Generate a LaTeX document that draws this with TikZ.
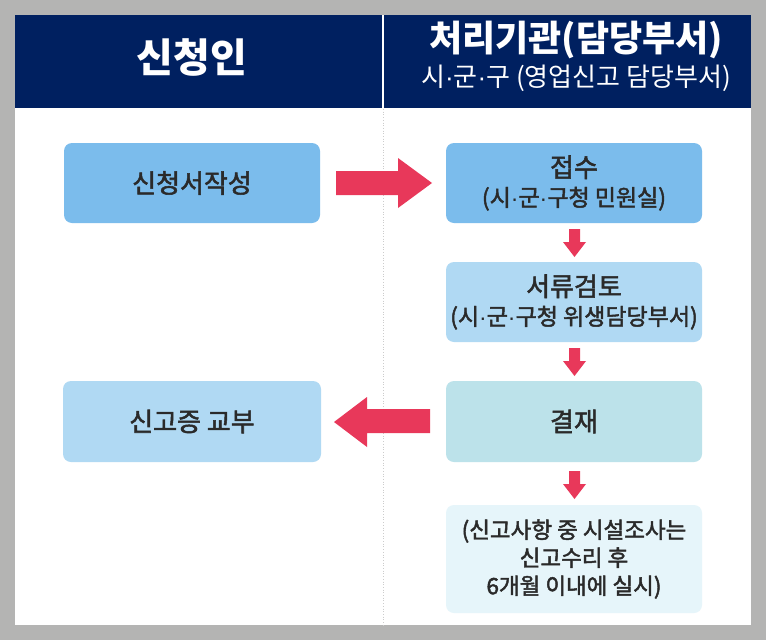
\documentclass[tikz,border=0pt]{standalone}
\usepackage{fontspec}
\setmainfont{Noto Sans CJK KR}
\newfontfamily\kmed[FakeBold=2]{Noto Sans CJK KR}
\newfontfamily\dotfont{Liberation Sans}
\newcommand{\md}{{\dotfont ·}}
\definecolor{navy}{RGB}{0,32,96}
\definecolor{bggray}{RGB}{180,180,179}
\definecolor{boxA}{RGB}{123,188,236}
\definecolor{boxB}{RGB}{176,217,243}
\definecolor{boxC}{RGB}{188,226,234}
\definecolor{boxD}{RGB}{230,245,250}
\definecolor{arrowred}{RGB}{232,56,90}
\definecolor{txt}{RGB}{42,42,42}
\tikzset{
  flowbox/.style={rounded corners=8pt, minimum width=256pt, minimum height=80pt, inner sep=0pt, align=center, text=txt, font=\kmed\fontsize{26}{30}\selectfont},
  blockarrow/.style={fill=arrowred, draw=none},
}
\begin{document}
\begin{tikzpicture}[x=1pt,y=-1pt]
\useasboundingbox (0,0) rectangle (766,640);
\fill[bggray] (0,0) rectangle (766,640);
\fill[white] (15,15) rectangle (751,625);
\fill[navy] (15,15) rectangle (751,108);
\fill[white] (382,15) rectangle (384,108);
\draw[gray!40, dotted, line width=0.7pt] (383,109) -- (383,625);
\node[text=white, font=\bfseries\fontsize{40}{44}\selectfont] (hleft) at (192,57) {신청인};
\node[text=white, font=\bfseries\fontsize{36}{40}\selectfont] (hright) at (576,40) {처리기관(담당부서)};
\node[text=white, font=\fontsize{26}{30}\selectfont] (hsub) at (576,78) {시\md 군\md 구 (영업신고 담당부서)};
\node[flowbox, fill=boxA] (apply) at (192,183) {신청서작성};
\node[flowbox, fill=boxA] (recv) at (574,183) {접수\\[-1pt]{\fontsize{23}{26}\selectfont (시\md 군\md 구청 민원실)}};
\node[flowbox, fill=boxB] (review) at (574,302) {서류검토\\[-1pt]{\fontsize{23}{26}\selectfont (시\md 군\md 구청 위생담당부서)}};
\node[flowbox, fill=boxC, minimum height=81pt] (approve) at (574,421.5) {결재};
\node[flowbox, fill=boxD, minimum height=108pt, font=\kmed\fontsize{22.5}{28}\selectfont] (note) at (574,559) {(신고사항 중 시설조사는\\신고수리 후\\6개월 이내에 실시)};
\node[flowbox, fill=boxB, minimum width=258pt, minimum height=81pt] (issue) at (192,421.5) {신고증 교부};
% right arrow apply -> recv
\fill[blockarrow] (336,171) -- (398,171) -- (398,158) -- (432,183) -- (398,208) -- (398,195) -- (336,195) -- cycle;
% down arrows
\foreach \ya/\yb/\yc in {229/242/257, 348/361/376, 471/484/499}{
  \fill[blockarrow] (569,\ya) -- (580,\ya) -- (580,\yb) -- (586,\yb) -- (574.5,\yc) -- (563,\yb) -- (569,\yb) -- cycle;
}
% left arrow approve -> issue
\fill[blockarrow] (430,409) -- (367,409) -- (367,397) -- (334,422) -- (367,447) -- (367,433) -- (430,433) -- cycle;
\end{tikzpicture}
\end{document}
